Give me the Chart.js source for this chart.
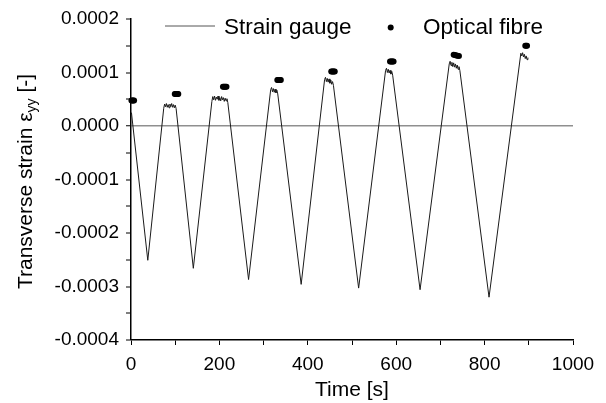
<!DOCTYPE html>
<html>
<head>
<meta charset="utf-8">
<script src="https://cdn.jsdelivr.net/npm/chart.js@4.4.1/dist/chart.umd.min.js"></script>
<style>
  html, body { margin: 0; padding: 0; background: #fff; }
  canvas { display: block; }
</style>
</head>
<body>
<canvas id="strainChart" width="606" height="403"></canvas>
<script>
// strain gauge trace: time [s] and strain
var gaugeTime = [1, 38,
  74, 76, 78, 80, 82, 84, 86, 88, 90, 92, 94, 96, 98, 100, 102,
  141,
  183, 185, 187, 189, 191, 193, 195, 197, 199, 201, 203, 205, 207, 209, 211, 213, 215, 217, 219,
  266,
  316, 318, 320, 322, 324, 326, 328, 330, 332,
  385,
  438, 440, 442, 444, 446, 448, 450, 452, 454, 456, 458,
  515,
  576, 578, 580, 582, 584, 586, 588, 590, 592,
  654,
  720, 722, 724, 726, 728, 730, 732, 734, 736, 738, 740, 742, 744,
  810,
  882, 884, 886, 888, 890, 892, 894, 896, 898];
var gaugeStrain = [0.000025, -0.000251,
  0.000033, 0.000041, 0.000036, 0.000042, 0.000035, 0.000040, 0.000034, 0.000041, 0.000036, 0.000042, 0.000035, 0.000040, 0.000034, 0.000039, 0.000033,
  -0.000266,
  0.000046, 0.000055, 0.000049, 0.000056, 0.000048, 0.000054, 0.000050, 0.000056, 0.000048, 0.000053, 0.000047, 0.000055, 0.000049, 0.000053, 0.000046, 0.000052, 0.000047, 0.000051, 0.000044,
  -0.000287,
  0.000068, 0.000072, 0.000064, 0.000070, 0.000063, 0.000069, 0.000062, 0.000067, 0.000060,
  -0.000296,
  0.000087, 0.000091, 0.000083, 0.000089, 0.000082, 0.000088, 0.000080, 0.000086, 0.000078, 0.000083, 0.000076,
  -0.000303,
  0.000104, 0.000108, 0.000100, 0.000106, 0.000099, 0.000104, 0.000097, 0.000102, 0.000095,
  -0.000306,
  0.000116, 0.000121, 0.000113, 0.000119, 0.000111, 0.000118, 0.000110, 0.000116, 0.000108, 0.000114, 0.000106, 0.000111, 0.000104,
  -0.000320,
  0.000136, 0.000131, 0.000137, 0.000129, 0.000134, 0.000126, 0.000131, 0.000124, 0.000128];

// optical fibre readings
var fibreTime = [1, 3, 5, 7,
  99, 101, 103, 105, 107,
  208, 210, 212, 214, 216,
  331, 333, 335, 337, 339,
  453, 455, 457, 459, 461,
  586, 588, 590, 592, 594,
  730, 733, 736, 739, 742,
  892, 894, 896];
var fibreStrain = [0.0000478, 0.0000478, 0.0000478, 0.0000478,
  0.0000596, 0.0000596, 0.0000596, 0.0000596, 0.0000596,
  0.0000735, 0.0000735, 0.0000735, 0.0000735, 0.0000735,
  0.0000861, 0.0000861, 0.0000861, 0.0000861, 0.0000861,
  0.0001017, 0.0001017, 0.0001017, 0.0001017, 0.0001017,
  0.0001204, 0.0001204, 0.0001204, 0.0001204, 0.0001204,
  0.000133, 0.0001325, 0.000132, 0.0001315, 0.000131,
  0.0001502, 0.0001502, 0.0001502];

var xTickValues = [0, 200, 400, 600, 800, 1000];
var xTickLabels = ['0', '200', '400', '600', '800', '1000'];
var yTickValues = [0.0002, 0.0001, 0, -0.0001, -0.0002, -0.0003, -0.0004];
var yTickLabels = ['0.0002', '0.0001', '0.0000', '-0.0001', '-0.0002', '-0.0003', '-0.0004'];

var FONT = '"Liberation Sans", Arial, sans-serif';

function pairs(xs, ys) {
  return xs.map(function (x, i) { return { x: x, y: ys[i] }; });
}

function labelFor(values, labels, v) {
  for (var i = 0; i < values.length; i++) {
    if (Math.abs(values[i] - v) < 1e-9) return labels[i];
  }
  return '';
}

// y title with subscript, and the legend inside the plot
var extras = {
  id: 'extras',
  afterDraw: function (chart) {
    var ctx = chart.ctx;
    var area = chart.chartArea;
    ctx.save();
    ctx.fillStyle = '#000';
    ctx.textBaseline = 'alphabetic';

    // y axis title
    var main = 'Transverse strain \u03b5', sub = 'yy', tail = ' [-]';
    ctx.font = '21px ' + FONT;
    var w1 = ctx.measureText(main).width, w3 = ctx.measureText(tail).width;
    ctx.font = '14px ' + FONT;
    var w2 = ctx.measureText(sub).width;
    var total = w1 + w2 + w3;
    ctx.translate(31.5, (area.top + area.bottom) / 2 + 2);
    ctx.rotate(-Math.PI / 2);
    ctx.font = '21px ' + FONT;
    ctx.fillText(main, -total / 2, 0);
    ctx.font = '14px ' + FONT;
    ctx.fillText(sub, -total / 2 + w1, 4);
    ctx.font = '21px ' + FONT;
    ctx.fillText(tail, -total / 2 + w1 + w2, 0);
    ctx.setTransform(1, 0, 0, 1, 0, 0);

    // legend
    var ds = chart.data.datasets;
    ctx.font = '22.5px ' + FONT;
    ctx.strokeStyle = '#555';
    ctx.lineWidth = 1;
    ctx.beginPath();
    ctx.moveTo(165, 26);
    ctx.lineTo(215, 26);
    ctx.stroke();
    ctx.fillText(ds[0].label, 224, 33.5);
    ctx.beginPath();
    ctx.arc(390.7, 27.5, 3, 0, Math.PI * 2);
    ctx.fillStyle = ds[1].backgroundColor;
    ctx.fill();
    ctx.fillStyle = '#000';
    ctx.fillText(ds[1].label, 423, 33.5);
    ctx.restore();
  }
};

new Chart(document.getElementById('strainChart'), {
  type: 'line',
  data: {
    datasets: [{
      label: 'Strain gauge',
      data: pairs(gaugeTime, gaugeStrain),
      borderColor: '#1a1a1a',
      borderWidth: 1,
      pointRadius: 0,
      tension: 0
    }, {
      label: 'Optical fibre',
      data: pairs(fibreTime, fibreStrain),
      showLine: false,
      pointRadius: 3,
      pointBorderWidth: 0,
      backgroundColor: '#000',
      borderColor: '#000',
      clip: false
    }]
  },
  options: {
    responsive: false,
    animation: false,
    devicePixelRatio: 1,
    layout: { padding: { left: 0, right: 33, top: 19, bottom: 0 } },
    plugins: { legend: { display: false }, tooltip: { enabled: false } },
    scales: {
      x: {
        type: 'linear',
        min: 0, max: 1000,
        afterFit: function (s) { s.height = 63; },
        border: { display: true, color: '#000', width: 1.5 },
        grid: { drawOnChartArea: false, drawTicks: true, tickLength: 5, tickColor: '#000', tickWidth: 1 },
        ticks: {
          stepSize: 100, autoSkip: false, maxRotation: 0, padding: 8,
          color: '#000', font: { family: FONT, size: 19 },
          callback: function (v) { return labelFor(xTickValues, xTickLabels, v); }
        },
        title: { display: true, text: 'Time [s]', color: '#000', font: { family: FONT, size: 21 }, padding: { top: 0, bottom: 0 } }
      },
      y: {
        min: -0.0004, max: 0.0002,
        afterFit: function (s) { s.width = 131; },
        border: { display: true, color: '#000', width: 1.5 },
        grid: {
          drawOnChartArea: true, drawTicks: true, tickLength: 5, tickWidth: 1, tickColor: '#000',
          color: function (c) { return c.tick && Math.abs(c.tick.value) < 1e-9 ? '#8f8f8f' : 'rgba(0,0,0,0)'; },
          lineWidth: function (c) { return c.tick && Math.abs(c.tick.value) < 1e-9 ? 1.5 : 0; }
        },
        ticks: {
          stepSize: 0.00005, autoSkip: false, padding: 7,
          color: '#000', font: { family: FONT, size: 19 },
          callback: function (v) { return labelFor(yTickValues, yTickLabels, v); }
        }
      }
    }
  },
  plugins: [extras]
});
</script>
</body>
</html>
